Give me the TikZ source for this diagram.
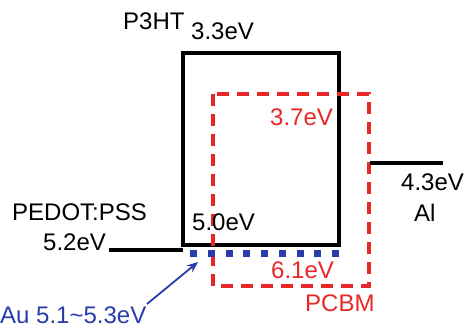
\documentclass[tikz,border=0pt]{standalone}
\usepackage{fontspec}
\setmainfont{Liberation Sans}
\usetikzlibrary{arrows.meta}
\definecolor{pred}{RGB}{232,40,40}
\definecolor{pblue}{RGB}{40,60,170}
\tikzset{
  lbl/.style={inner sep=0pt, font=\fontsize{24}{26}\selectfont},
  lvl/.style={line width=3.2pt, black},
  redbox/.style={line width=3.2pt, pred, dash pattern=on 12pt off 8pt},
}
\begin{document}
\begin{tikzpicture}[x=1pt,y=-1pt]
\useasboundingbox (0,0) rectangle (467,331);
% P3HT box
\draw[lvl] (183,53) rectangle (339,245);
% PCBM dashed box
\draw[redbox] (213,94) rectangle (369,286);
% PEDOT level
\coordinate (pedL) at (109,250);
\coordinate (pedR) at (183,250);
\draw[lvl] (pedL) -- (pedR);
% Al level
\coordinate (alL) at (370,163);
\coordinate (alR) at (443,163);
\draw[lvl] (alL) -- (alR);
% Au dotted level
\coordinate (auL) at (190,254);
\coordinate (auR) at (339,254);
\draw[pblue, line width=7pt, dash pattern=on 7pt off 10.75pt] (auL) -- (auR);
% texts
\node[lbl, anchor=base west] (p3ht) at (123,30) {P3HT};
\node[lbl, anchor=base west] (e33) at (191,40) {3.3eV};
\node[lbl, anchor=base west, text=pred] (e37) at (270,126) {3.7eV};
\node[lbl, anchor=base west] (pedot) at (12,221) {PEDOT:PSS};
\node[lbl, anchor=base west] (e52) at (43,251) {5.2eV};
\node[lbl, anchor=base west] (e50) at (192,231) {5.0eV};
\node[lbl, anchor=base west, text=pred] (e61) at (271,279) {6.1eV};
\node[lbl, anchor=base west, text=pred] (pcbm) at (305,312) {PCBM};
\node[lbl, anchor=base west] (e43) at (401,191) {4.3eV};
\node[lbl, anchor=base west] (al) at (414,222) {Al};
\node[lbl, anchor=base west, text=pblue] (au) at (0,324) {Au 5.1\textasciitilde5.3eV};
% arrow
\coordinate (autip) at (198,262);
\coordinate (aubase) at (147,304);
\draw[pblue, line width=1.8pt, -{Stealth[length=11pt,width=9pt]}] (aubase) -- (autip);
\end{tikzpicture}
\end{document}
